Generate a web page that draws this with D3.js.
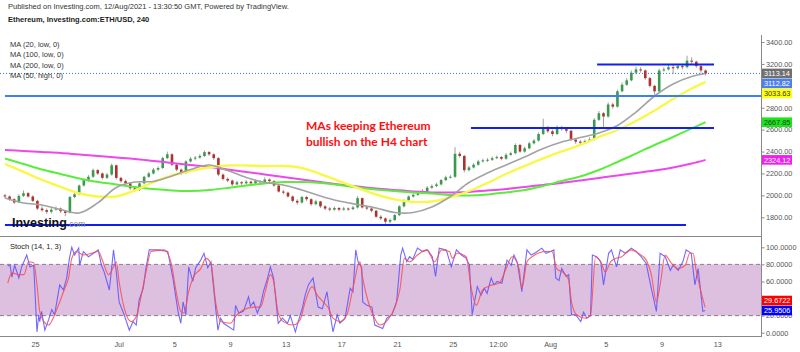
<!DOCTYPE html>
<html><head><meta charset="utf-8">
<script src="https://cdn.jsdelivr.net/npm/d3@7/dist/d3.min.js"></script>
<style>
body{margin:0;background:#fff;}
svg{display:block;font-family:"Liberation Sans",Arial,sans-serif;}
</style>
</head><body>
<svg id="c" width="800" height="352"></svg>
<script>
// ---------- DATA ----------
const candleStart = Date.UTC(2021,5,22,20);   // first candle time
const candleHours = 8;                         // one candle = 8 hours
const firstOpen = 2000;
const closes = [1990,1965,1935,1995,2020,1990,1950,1880,1865,1850,
1870,1880,1855,1840,1985,2010,2090,2140,2170,2230,
2200,2160,2190,2275,2160,2130,2110,2065,2050,2110,
2170,2200,2235,2250,2340,2375,2280,2235,2205,2310,
2335,2345,2360,2395,2375,2340,2190,2150,2135,2100,
2120,2110,2125,2110,2130,2120,2145,2130,2090,2035,
2025,1990,1950,1935,1985,1965,1920,1945,1900,1880,
1870,1885,1870,1880,1875,1890,1975,1890,1880,1860,
1805,1790,1760,1775,1820,1900,1955,1990,2005,2025,
2040,2070,2085,2100,2140,2165,2170,2380,2360,2230,
2255,2280,2310,2320,2325,2340,2350,2335,2370,2385,
2460,2400,2430,2475,2500,2560,2620,2585,2560,2620,
2605,2590,2510,2490,2480,2495,2510,2690,2750,2720,
2830,2810,2950,3010,3050,3120,3150,3140,3070,3000,
2950,3140,3150,3170,3160,3180,3170,3230,3220,3180,
3140,3113];
const highs = [2015,2000,1975,2010,2045,2030,2000,1960,1900,1880,
1885,1900,1890,1865,1995,2030,2100,2155,2185,2245,
2240,2210,2205,2290,2280,2170,2145,2120,2080,2120,
2180,2215,2250,2265,2355,2400,2385,2290,2245,2320,
2350,2360,2375,2410,2405,2385,2350,2200,2165,2145,
2135,2130,2140,2135,2145,2140,2165,2155,2140,2100,
2050,2035,2000,1965,1995,1995,1975,1960,1950,1910,
1895,1900,1895,1895,1890,1905,1995,1980,1900,1890,
1870,1820,1800,1790,1830,1910,1965,2000,2020,2040,
2055,2085,2100,2115,2150,2180,2185,2440,2400,2370,
2270,2295,2325,2335,2340,2355,2365,2360,2385,2400,
2475,2470,2445,2490,2515,2575,2700,2635,2600,2640,
2635,2620,2600,2525,2505,2510,2530,2705,2770,2760,
2850,2845,2965,3030,3070,3140,3175,3170,3150,3080,
3010,3155,3170,3200,3190,3200,3195,3275,3260,3230,
3190,3150];
const lows = [1975,1950,1920,1930,1985,1980,1940,1865,1850,1830,
1835,1860,1840,1810,1835,1975,2000,2080,2125,2160,
2185,2145,2150,2180,2145,2115,2095,2050,2035,2040,
2100,2160,2190,2220,2240,2330,2265,2220,2185,2195,
2300,2320,2335,2350,2360,2325,2175,2135,2120,2085,
2090,2095,2100,2095,2100,2105,2110,2115,2080,2025,
2010,1980,1935,1915,1925,1950,1905,1910,1885,1865,
1855,1860,1855,1860,1860,1865,1880,1880,1865,1845,
1795,1775,1720,1745,1765,1810,1890,1945,1980,1995,
2015,2030,2060,2075,2090,2130,2155,2160,2345,2210,
2220,2245,2270,2300,2305,2315,2330,2320,2325,2360,
2375,2390,2390,2420,2465,2490,2550,2570,2540,2550,
2590,2570,2495,2470,2465,2470,2485,2500,2680,2620,
2710,2790,2800,2940,3000,3040,3105,3120,3055,2985,
2920,2940,3130,3140,3110,3150,3150,3160,3200,3165,
3120,3095];

// moving averages, read at these candle indexes
const maIndex = [0,4,8,12,16,20,24,28,32,36,40,44,48,52,56,60,64,68,72,76,80,84,88,92,96,100,104,108,112,116,120,124,128,132,136,140,144,148,151];
const ma20  = [1976,1931,1912,1871,1839,1931,2072,2122,2127,2177,2236,2277,2227,2163,2118,2095,2049,1995,1949,1917,1885,1844,1844,1894,1990,2118,2204,2277,2351,2428,2487,2528,2570,2638,2761,2907,3017,3085,3113];
const ma100 = [2337,2287,2236,2195,2154,2122,2100,2077,2058,2045,2040,2049,2068,2090,2109,2122,2122,2113,2095,2072,2054,2040,2027,2017,2004,1999,2008,2027,2049,2086,2131,2173,2232,2305,2382,2460,2533,2611,2668];
const ma200 = [2414,2405,2396,2387,2373,2360,2346,2332,2314,2296,2277,2259,2236,2214,2191,2168,2145,2122,2100,2081,2063,2049,2036,2027,2027,2031,2045,2058,2077,2095,2113,2136,2159,2182,2204,2227,2255,2291,2324];
const ma50  = [2287,2214,2141,2077,2017,1990,1990,2045,2122,2182,2223,2255,2273,2273,2268,2268,2250,2195,2131,2068,2008,1963,1940,1944,1981,2040,2113,2195,2268,2337,2401,2460,2533,2597,2679,2775,2880,2976,3034];

// stochastic (candle index, value)
const stochK = [[0.6,78],[1.1,79],[1.5,65],[2.1,79],[3.0,64],[3.6,77],[4.7,91],[5.4,77],[6.2,79],[6.9,1],[7.3,21],[7.5,13],[7.9,25],[8.6,3],[9.4,15],[10.1,27],[10.7,21],[11.8,56],[12.6,50],[13.3,64],[13.9,87],[14.4,100],[15.0,91],[15.9,99],[16.1,79],[16.9,95],[18.0,89],[19.1,93],[20.1,97],[20.8,79],[21.4,71],[22.5,50],[23.4,97],[24.0,71],[24.6,36],[25.7,21],[26.8,3],[27.6,13],[28.3,9],[28.9,38],[29.8,52],[30.4,76],[31.1,97],[33.0,97],[35.1,95],[36.2,64],[37.3,25],[37.9,11],[38.4,36],[39.0,21],[39.6,77],[40.5,60],[41.1,76],[42.2,85],[42.9,93],[43.7,76],[44.4,83],[45.9,3],[46.5,17],[47.1,11],[49.3,3],[49.7,32],[50.4,23],[51.4,25],[52.5,42],[52.9,31],[53.6,36],[54.4,23],[55.1,33],[55.7,48],[56.6,64],[57.2,77],[57.9,64],[58.9,11],[59.8,17],[60.9,11],[61.5,20],[62.6,1],[63.2,13],[64.1,29],[64.7,44],[65.4,56],[66.4,64],[67.5,30],[68.4,28],[69.4,48],[70.1,21],[70.7,1],[71.6,21],[72.2,11],[73.3,17],[74.4,52],[75.0,48],[75.6,97],[76.1,83],[76.9,76],[77.1,36],[78.0,32],[79.1,30],[79.7,9],[81.4,5],[82.3,17],[83.4,21],[84.4,36],[84.6,48],[85.3,91],[85.7,99],[86.6,83],[87.2,89],[87.9,86],[88.9,99],[90.0,95],[91.1,97],[92.1,89],[92.8,66],[93.6,99],[95.1,97],[96.2,77],[97.3,97],[98.4,91],[99.4,87],[100.1,79],[100.7,21],[101.8,54],[102.6,44],[103.3,52],[103.9,46],[104.8,64],[105.4,56],[106.1,60],[107.1,58],[108.2,85],[109.1,79],[109.7,91],[110.4,83],[111.4,48],[112.5,97],[113.4,91],[114.4,94],[115.7,99],[116.6,93],[117.6,95],[118.3,97],[118.7,64],[119.4,61],[120.0,75],[120.9,66],[121.5,68],[122.1,21],[123.0,21],[124.1,13],[124.7,24],[125.4,17],[126.2,20],[126.6,91],[127.5,89],[128.4,83],[129.0,56],[130.1,93],[130.7,97],[131.8,77],[132.6,97],[133.7,93],[135.0,99],[136.1,95],[137.1,89],[138.2,81],[139.3,52],[140.4,25],[141.2,93],[142.3,89],[143.4,73],[144.0,79],[145.1,73],[146.1,83],[146.8,97],[147.9,93],[148.7,56],[149.4,75],[150.4,25],[150.9,25.9506]];
const stochD = [[0.6,58],[1.5,70],[3.0,68],[4.1,68],[5.1,83],[6.2,82],[6.9,56],[7.5,25],[8.4,13],[9.4,9],[10.7,21],[11.8,36],[12.9,52],[13.7,64],[14.4,87],[15.4,95],[16.9,91],[18.6,93],[20.1,95],[21.2,82],[22.3,68],[23.4,77],[24.0,83],[24.6,60],[25.7,29],[27.2,13],[28.3,19],[29.4,44],[30.4,71],[31.5,95],[34.3,97],[35.8,82],[36.9,48],[37.9,25],[38.6,23],[39.6,48],[40.7,66],[42.2,75],[43.3,87],[44.4,81],[45.4,36],[46.5,13],[48.6,11],[49.7,19],[51.4,27],[53.6,30],[55.1,30],[56.1,48],[57.2,68],[57.9,60],[58.9,23],[60.0,13],[62.1,9],[63.6,15],[64.7,36],[66.2,54],[67.3,44],[68.6,36],[69.6,30],[70.7,17],[72.2,13],[73.7,21],[75.0,52],[76.5,83],[77.1,64],[78.2,38],[79.3,21],[80.8,9],[82.5,15],[84.0,29],[85.1,50],[86.1,87],[87.2,83],[88.9,91],[90.9,97],[92.6,83],[94.1,97],[95.8,95],[96.4,87],[97.5,93],[99.4,89],[100.5,52],[101.6,32],[102.9,50],[105.0,56],[106.5,58],[108.0,75],[109.3,89],[110.8,75],[111.4,52],[112.5,83],[113.6,89],[116.6,95],[117.9,95],[118.9,75],[120.4,70],[121.5,62],[122.1,36],[123.2,21],[125.1,17],[126.2,21],[127.3,89],[128.4,83],[129.4,71],[130.5,83],[131.6,87],[132.9,89],[135.0,97],[136.5,93],[138.2,85],[139.3,68],[140.4,36],[141.2,56],[142.3,91],[143.4,83],[145.1,75],[146.6,79],[147.6,93],[148.3,93],[148.9,75],[150.0,48],[150.9,29.6722]];

// drawn horizontal levels
const levelPrices = [3195, 2907, 2615, 1730];
const levelStarts = ["2021-08-04T09:00Z","2021-06-22T20:00Z","2021-07-26T07:30Z","2021-06-22T20:00Z"];
const levelEnds   = ["2021-08-12T18:30Z","2021-08-17T00:00Z","2021-08-12T18:30Z","2021-08-10T18:15Z"];

const lastPrice = 3113.14;
const priceLabelValues = [3113.14, 3112.82, 3033.63, 2667.85, 2324.12];
const stochLabelValues = [25.9506, 29.6722];

const priceTicks = [1800,2000,2200,2400,2600,2800,3200,3400];
const stochTicks = [0,20,60,80,100];
const timeTicks = ["2021-06-25","2021-07-01","2021-07-05","2021-07-09","2021-07-13","2021-07-17","2021-07-21","2021-07-25","2021-07-28T06:00Z","2021-08-01","2021-08-05","2021-08-09","2021-08-13"];
const timeTickLabels = ["25","Jul","5","9","13","17","21","25","12:00","Aug","5","9","13"];

const legendLabels = ["MA (20, low, 0)","MA (100, low, 0)","MA (200, low, 0)","MA (50, high, 0)"];
const noteLines = ["MAs keeping Ethereum","bullish on the H4 chart"];

// ---------- CHART ----------
const svg = d3.select("#c");
const axisX = 761.5;
const x = d3.scaleUtc().domain([new Date(Date.UTC(2021,5,25)), new Date(Date.UTC(2021,7,13))]).range([35.1, 717.2]);
const y = d3.scaleLinear().domain([1800,3400]).range([217.3,42]);
const ys = d3.scaleLinear().domain([0,100]).range([332.7,247.3]);
const tOf = i => new Date(candleStart + i*candleHours*3600e3);

const defs = svg.append("defs");
defs.append("clipPath").attr("id","cp").append("rect").attr("x",0).attr("y",30).attr("width",axisX).attr("height",206);
defs.append("clipPath").attr("id","cs").append("rect").attr("x",0).attr("y",237).attr("width",axisX).attr("height",99);

// header
svg.append("text").attr("x",8).attr("y",8.5).attr("font-size",7.5).attr("fill","#333")
  .text("Published on Investing.com, 12/Aug/2021 - 13:30:50 GMT, Powered by TradingView.");
svg.append("text").attr("x",8).attr("y",21.5).attr("font-size",7.5).attr("font-weight","bold").attr("fill","#222")
  .text("Ethereum, Investing.com:ETH/USD, 240");

// ---- price panel ----
const gp = svg.append("g").attr("clip-path","url(#cp)");

// candles
const candles = closes.map((c,i)=>({i, o: i===0?firstOpen:closes[i-1], c, h:highs[i], l:lows[i]}));
const cg = gp.append("g");
cg.selectAll("line.w").data(candles).join("line")
  .attr("x1",d=>x(tOf(d.i))).attr("x2",d=>x(tOf(d.i)))
  .attr("y1",d=>y(d.h)).attr("y2",d=>y(d.l))
  .attr("stroke","#a0a0a0").attr("stroke-width",1);
cg.selectAll("rect").data(candles).join("rect")
  .attr("x",d=>x(tOf(d.i))-1.3).attr("width",2.6)
  .attr("y",d=>y(Math.max(d.o,d.c)))
  .attr("height",d=>Math.max(1,Math.abs(y(d.o)-y(d.c))))
  .attr("fill",d=>d.c>=d.o?"#3a9a4c":"#b0302b");

// moving averages
const maLine = d3.line().x(d=>x(tOf(d[0]))).y(d=>y(d[1])).curve(d3.curveCatmullRom.alpha(0.5));
const mas = [[ma200,"#ec48ec",2],[ma100,"#5ced3c",2],[ma50,"#f8f84a",2.4],[ma20,"#a3a3a3",1.6]];
mas.forEach(([arr,col,w])=>{
  gp.append("path").datum(maIndex.map((k,j)=>[k,arr[j]]))
    .attr("d",maLine).attr("fill","none").attr("stroke",col).attr("stroke-width",w);
});

// current price dotted line
gp.append("line").attr("x1",0).attr("x2",axisX).attr("y1",y(lastPrice)).attr("y2",y(lastPrice))
  .attr("stroke","#3b6fe0").attr("stroke-width",1).attr("stroke-dasharray","1,2");

// horizontal levels
const levelColors = ["#1020f0","#3b7ff0","#1020f0","#1020f0"];
levelPrices.forEach((p,k)=>{
  gp.append("line").attr("x1",x(new Date(levelStarts[k]))).attr("x2",x(new Date(levelEnds[k])))
    .attr("y1",y(p)).attr("y2",y(p)).attr("stroke",levelColors[k]).attr("stroke-width",2);
});

// legend
legendLabels.forEach((t,k)=>{
  svg.append("text").attr("x",10).attr("y",47+k*10.3).attr("font-size",7.5).attr("fill","#333").text(t);
});

// annotation
noteLines.forEach((t,k)=>{
  svg.append("text").attr("x",306).attr("y",130+k*16).attr("font-size",12).attr("font-weight","bold")
    .attr("fill","#ff1010").attr("font-family","Lato, 'Liberation Sans', sans-serif").text(t);
});

// Investing logo
svg.append("text").attr("x",12).attr("y",226.5).attr("font-size",12.5).attr("font-weight","bold").attr("fill","#111").text("Investing");
svg.append("text").attr("x",67).attr("y",226.5).attr("font-size",8.5).attr("fill","#888").text(".com");

// ---- stochastic panel ----
const gs = svg.append("g");
gs.append("rect").attr("x",0).attr("width",axisX).attr("y",ys(80)).attr("height",ys(20)-ys(80)).attr("fill","#ddc0e0");
[80,20].forEach(v=>gs.append("line").attr("x1",0).attr("x2",axisX).attr("y1",ys(v)).attr("y2",ys(v))
  .attr("stroke","#8a7a8a").attr("stroke-dasharray","4,3").attr("stroke-width",1));
const gsc = gs.append("g").attr("clip-path","url(#cs)");
const sLine = d3.line().x(d=>x(tOf(d[0]))).y(d=>ys(d[1]));
gsc.append("path").datum(stochK).attr("d",sLine).attr("fill","none").attr("stroke","#5a50ff").attr("stroke-width",1.1).attr("opacity",0.85);
gsc.append("path").datum(stochD).attr("d",sLine.curve(d3.curveMonotoneX)).attr("fill","none").attr("stroke","#ff4a4a").attr("stroke-width",1.1).attr("opacity",0.85);
svg.append("text").attr("x",10).attr("y",248.5).attr("font-size",7.5).attr("fill","#222").text("Stoch (14, 1, 3)");

// panel borders
svg.append("line").attr("x1",0).attr("x2",axisX).attr("y1",236.5).attr("y2",236.5).attr("stroke","#888");
svg.append("line").attr("x1",0).attr("x2",axisX).attr("y1",336.5).attr("y2",336.5).attr("stroke","#888");
svg.append("line").attr("x1",axisX).attr("x2",axisX).attr("y1",35).attr("y2",337).attr("stroke","#888");

// axes
const styleAxis = g => { g.select(".domain").remove(); g.selectAll("line").attr("stroke","#888");
  g.selectAll("text").attr("fill","#555").attr("font-size",7.3).attr("font-family","'Liberation Sans',Arial,sans-serif"); };
svg.append("g").attr("transform",`translate(${axisX},0)`)
  .call(d3.axisRight(y).tickValues(priceTicks).tickFormat(d3.format(".2f")).tickSize(3).tickPadding(1.5)).call(styleAxis);
svg.append("g").attr("transform",`translate(${axisX},0)`)
  .call(d3.axisRight(ys).tickValues(stochTicks).tickFormat(d3.format(".4f")).tickSize(3).tickPadding(1.5)).call(styleAxis);
svg.append("g").attr("transform","translate(0,336.5)")
  .call(d3.axisBottom(x).tickValues(timeTicks.map(s=>new Date(s))).tickFormat((d,k)=>timeTickLabels[k]).tickSize(0).tickPadding(5)).call(styleAxis);

// value label boxes
function resolve(vals, scale, dir){
  const out=[]; vals.forEach((v,k)=>{ let yy=scale(v);
    if(k>0){ const prev=out[k-1]; if(dir>0 && yy<prev+10) yy=prev+10; if(dir<0 && yy>prev-10) yy=prev-10; }
    out.push(yy);}); return out;
}
const priceBoxColors = [["#6f6f6f","#fff"],["#4f80e8","#fff"],["#ffff10","#333"],["#18e818","#333"],["#ee22ee","#fff"]];
const py = resolve(priceLabelValues, y, 1);
const stochBoxColors = [["#0000ff","#fff"],["#ff0000","#fff"]];
const sy = resolve(stochLabelValues, ys, -1);
function box(yc, v, dec, cols){
  svg.append("rect").attr("x",axisX+0.5).attr("y",yc-4.8).attr("width",30).attr("height",9.6).attr("fill",cols[0]);
  svg.append("text").attr("x",axisX+2.5).attr("y",yc+2.7).attr("font-size",7.3).attr("fill",cols[1]).text(v.toFixed(dec));
}
priceLabelValues.forEach((v,k)=>box(py[k], v, 2, priceBoxColors[k]));
stochLabelValues.forEach((v,k)=>box(sy[k], v, 4, stochBoxColors[k]));
</script>
</body></html>
